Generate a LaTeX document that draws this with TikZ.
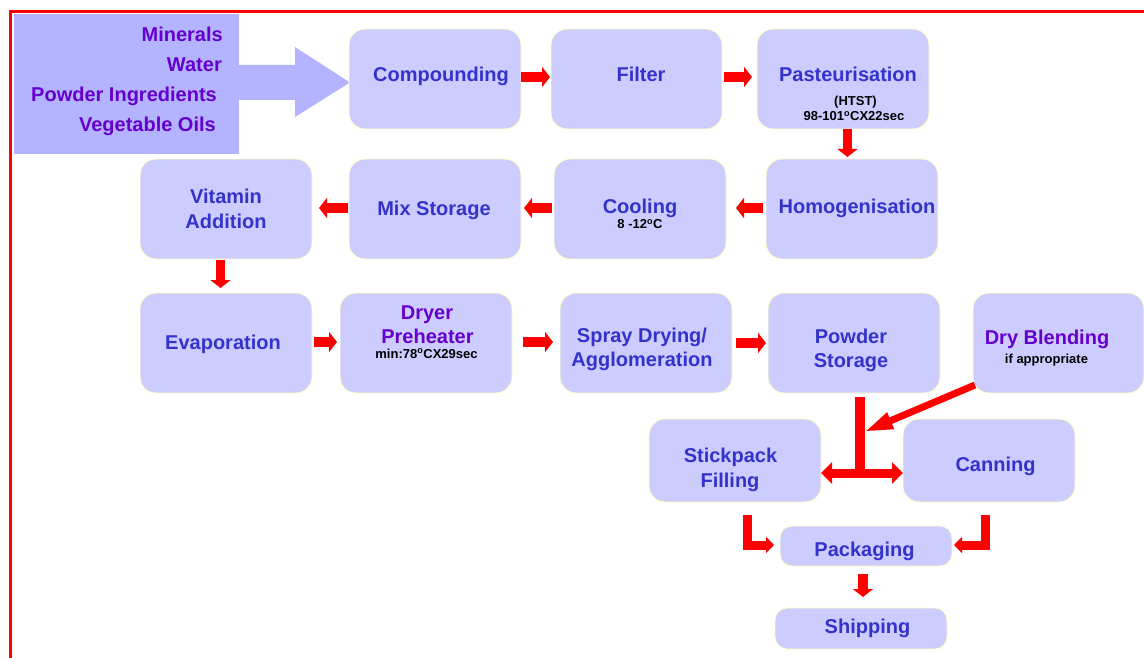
\documentclass[tikz,border=0pt]{standalone}
\usepackage{fontspec}
\setmainfont{Liberation Sans}
\usetikzlibrary{arrows.meta,calc}
\definecolor{boxfill}{RGB}{204,204,255}
\definecolor{inbox}{RGB}{179,179,255}
\definecolor{boxline}{RGB}{255,255,200}
\definecolor{txtblue}{RGB}{51,51,204}
\definecolor{txtpurple}{RGB}{102,0,204}
\begin{document}
\begin{tikzpicture}[x=1pt,y=-1pt,
  box/.style={draw=boxline, line width=0.9pt, fill=boxfill, rounded corners=16pt,
    minimum width=172pt, minimum height=100pt, inner sep=0pt, outer sep=0pt},
  smallbox/.style={box, rounded corners=12pt},
  lbl/.style={font=\fontsize{20}{24}\selectfont\bfseries, text=txtblue, inner sep=0pt, anchor=base},
  plbl/.style={lbl, text=txtpurple},
  sub/.style={font=\fontsize{13}{15}\selectfont\bfseries, text=black, inner sep=0pt, anchor=base},
  inlbl/.style={font=\fontsize{20}{24}\selectfont\bfseries, text=txtpurple, inner sep=0pt, anchor=base east},
  rarrow/.style={draw=red, line width=9.5pt, -{Triangle[length=8pt,width=20pt]}},
  rline/.style={draw=red, line width=10pt},
  rdouble/.style={draw=red, line width=9pt, {Triangle[length=11pt,width=21pt]}-{Triangle[length=11pt,width=21pt]}},
  rthin/.style={draw=red, line width=7pt, -{Triangle[length=29pt,width=16pt]}},
  relbow/.style={draw=red, line width=9pt, -{Triangle[length=8pt,width=16pt]}},
]
\useasboundingbox (0,0) rectangle (1144,658);
\clip (0,0) rectangle (1144,658);

% red frame
\draw[red, line width=3.5pt] (10.5,700) -- (10.5,11.7) -- (1200,11.7);

% input block with big arrow
\fill[inbox] (14,14) rectangle (239,154);
\fill[inbox] (238,65) -- (295,65) -- (295,47) -- (350,82.5) -- (295,117) -- (295,100) -- (238,100) -- cycle;
\node[inlbl] (in1) at (223,42) {Minerals};
\node[inlbl] (in2) at (222,71.5) {Water};
\node[inlbl] (in3) at (217,102) {Powder Ingredients};
\node[inlbl] (in4) at (216,132) {Vegetable Oils};

% boxes
\node[box] (comp) at (435,79) {};
\node[box, minimum width=171pt] (filt) at (636.5,79) {};
\node[box] (past) at (843,79) {};
\node[box] (homo) at (852,209) {};
\node[box] (cool) at (640,209) {};
\node[box] (mix) at (435,209) {};
\node[box] (vit) at (226,209) {};
\node[box] (evap) at (226,343) {};
\node[box] (dryer) at (426,343) {};
\node[box] (spray) at (646,343) {};
\node[box] (pstore) at (854,343) {};
\node[box, minimum width=171pt] (blend) at (1058.5,343) {};
\node[box, minimum height=83pt] (stick) at (735,460.5) {};
\node[box, minimum height=83pt] (can) at (989,460.5) {};
\node[smallbox, minimum height=40pt] (pack) at (866,546) {};
\node[smallbox, minimum height=41pt] (ship) at (861,628.5) {};

% labels
\node[lbl] (tcomp) at (441,82) {Compounding};
\node[lbl] (tfilt) at (641,82) {Filter};
\node[lbl] (tpast) at (848,82) {Pasteurisation};
\node[sub] (tpast2) at (855.5,106) {(HTST)};
\node[sub] (tpast3) at (854,121) {98-101\textsuperscript{o}CX22sec};
\node[lbl] (thomo) at (857,214) {Homogenisation};
\node[lbl] (tcool) at (640,213) {Cooling};
\node[sub] (tcool2) at (640,229) {8 -12\textsuperscript{o}C};
\node[lbl] (tmix) at (434,215) {Mix Storage};
\node[lbl] (tvit1) at (226,204) {Vitamin};
\node[lbl] (tvit2) at (226,228) {Addition};
\node[lbl] (tevap) at (223,349) {Evaporation};
\node[plbl] (tdry1) at (427,319) {Dryer};
\node[plbl] (tdry2) at (427.5,343) {Preheater};
\node[sub] (tdry3) at (426.5,358) {min:78\textsuperscript{o}CX29sec};
\node[lbl] (tspr1) at (642,342) {Spray Drying/};
\node[lbl] (tspr2) at (642,366) {Agglomeration};
\node[lbl] (tps1) at (851,343) {Powder};
\node[lbl] (tps2) at (851,367) {Storage};
\node[plbl] (tbl1) at (1047,344) {Dry Blending};
\node[sub] (tbl2) at (1046.5,363) {if appropriate};
\node[lbl] (tst1) at (730.5,462) {Stickpack};
\node[lbl] (tst2) at (730,487) {Filling};
\node[lbl] (tcan) at (995.5,471) {Canning};
\node[lbl] (tpack) at (864.5,556) {Packaging};
\node[lbl] (tship) at (867.5,633) {Shipping};

% connectors
\draw[rarrow] ($(comp.east)+(0,-2)$) -- ($(filt.west)+(-1,-2)$);
\draw[rarrow] ($(filt.east)+(2,-2)$) -- ($(past.west)+(-5,-2)$);
\draw[rarrow] ($(past.south)+(4.5,0)$) -- ($(homo.north)+(-4.5,-2)$);
\draw[rarrow] ($(homo.west)+(-3,-1)$) -- ($(cool.east)+(10,-1)$);
\draw[rarrow] ($(cool.west)+(-2,-1)$) -- ($(mix.east)+(3,-1)$);
\draw[rarrow] ($(mix.west)+(-1,-1)$) -- ($(vit.east)+(7,-1)$);
\draw[rarrow] ($(vit.south)+(-5.5,1)$) -- ($(evap.north)+(-5.5,-5)$);
\draw[rarrow] ($(evap.east)+(2,-1)$) -- ($(dryer.west)+(-3,-1)$);
\draw[rarrow] ($(dryer.east)+(11,-1)$) -- ($(spray.west)+(-7,-1)$);
\draw[rarrow] ($(spray.east)+(4,0)$) -- ($(pstore.west)+(-2,0)$);

\coordinate (j) at (860,473);
\coordinate (jb) at (864,432);
\draw[rline] ($(pstore.south)+(6,4)$) -- ($(j)+(0,4.5)$);
\draw[rdouble] (stick.east |- j) -- (can.west |- j);
\draw[rthin] ($(blend.south west)+(2,-8)$) -- (jb);

\draw[relbow] ($(stick.south)+(12,13)$) |- ($(pack.west)+(-6,-1)$);
\draw[relbow] ($(can.south)+(-4,13)$) |- ($(pack.east)+(2,-1)$);
\draw[rarrow] ($(pack.south)+(-3,8)$) -- ($(ship.north)+(2,-11)$);
\end{tikzpicture}
\end{document}
